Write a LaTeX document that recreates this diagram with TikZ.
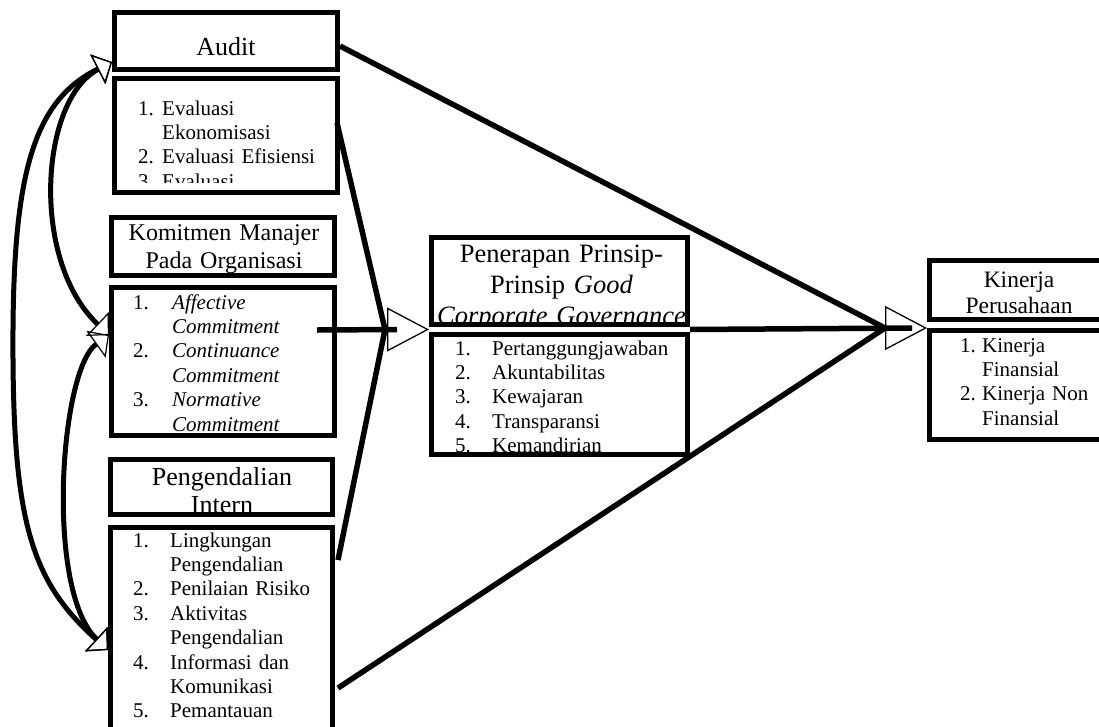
\documentclass[tikz,border=0pt]{standalone}
\usepackage{fontspec}
\setmainfont{Liberation Serif}
\usepackage{tikz}
\usetikzlibrary{arrows.meta}
\newcommand{\lnum}[2]{\makebox[#1][l]{#2}}

\begin{document}
\begin{tikzpicture}[
    x=1pt, y=-1pt,
    frameBox/.style={draw, rectangle, line width=5pt, inner sep=0pt},
    headText/.style={align=center, inner sep=0pt, anchor=base, text width=280pt},
    listText/.style={align=left, inner sep=0pt, anchor=base west, text width=230pt, font=\fontsize{21}{24.4}\selectfont},
    mainLine/.style={line width=5.5pt},
    bigTip/.style={line width=1.3pt, -{Triangle[open, length=42pt, width=44pt]}},
    sideArr/.style={line width=5pt, {Triangle[open, length=16pt, width=33pt, line width=1.2pt]}-{Triangle[open, length=16pt, width=33pt, line width=1.2pt]}}
]
    \useasboundingbox (0,0) rectangle (1099,726);

    % Audit
    \node[frameBox, minimum width=223pt, minimum height=57pt] (audH) at (226,41) {};
    \node[headText, font=\fontsize{26}{28}\selectfont] (audT) at (226,55) {Audit};
    \node[frameBox, minimum width=223pt, minimum height=114pt] (audL) at (226,135.5) {};
    \begin{scope}
        \clip ([xshift=5pt,yshift=-5pt]audL.north west) rectangle ([xshift=-5pt,yshift=13pt]audL.south east);
        \node[listText] (audI) at (138,115) {\lnum{24pt}{1.}Evaluasi\\\hspace*{24pt}Ekonomisasi\\\lnum{24pt}{2.}Evaluasi Efisiensi\\\lnum{24pt}{3.}Evaluasi};
    \end{scope}

    % Komitmen manajer
    \node[frameBox, minimum width=223pt, minimum height=58pt] (komH) at (223,246.5) {};
    \node[headText, font=\fontsize{24}{28}\selectfont] (komT) at (224,240) {Komitmen Manajer\\Pada Organisasi};
    \node[frameBox, minimum width=223pt, minimum height=148pt] (komL) at (223,361.5) {};
    \node[listText] (komI) at (133,309) {\lnum{39pt}{1.}\textit{Affective}\\\hspace*{39pt}\textit{Commitment}\\\lnum{39pt}{2.}\textit{Continuance}\\\hspace*{39pt}\textit{Commitment}\\\lnum{39pt}{3.}\textit{Normative}\\\hspace*{39pt}\textit{Commitment}};

    % Pengendalian intern
    \node[frameBox, minimum width=222pt, minimum height=55pt] (penH) at (221.5,487) {};
    \node[headText, font=\fontsize{26}{28}\selectfont] (penT) at (222,485) {Pengendalian\\Intern};
    \node[frameBox, minimum width=222pt, minimum height=225pt] (penL) at (221.5,640) {};
    \node[listText] (penI) at (133,547) {\lnum{37pt}{1.}Lingkungan\\\hspace*{37pt}Pengendalian\\\lnum{37pt}{2.}Penilaian Risiko\\\lnum{37pt}{3.}Aktivitas\\\hspace*{37pt}Pengendalian\\\lnum{37pt}{4.}Informasi dan\\\hspace*{37pt}Komunikasi\\\lnum{37pt}{5.}Pemantauan};

    % GCG
    \node[frameBox, minimum width=256pt, minimum height=87pt] (gcgH) at (559.5,281) {};
    \begin{scope}
        \clip ([xshift=5pt,yshift=-5pt]gcgH.north west) rectangle ([xshift=-5pt,yshift=5pt]gcgH.south east);
        \node[headText, font=\fontsize{26.5}{31}\selectfont] (gcgT) at (561.5,262) {Penerapan Prinsip-\\Prinsip \textit{Good}\\\textit{Corporate Governance}};
    \end{scope}
    \node[frameBox, minimum width=256pt, minimum height=120pt] (gcgL) at (559.5,394.5) {};
    \begin{scope}
        \clip ([xshift=5pt,yshift=-5pt]gcgL.north west) rectangle ([xshift=-5pt,yshift=5pt]gcgL.south east);
        \node[listText] (gcgI) at (455,355) {\lnum{37pt}{1.}Pertanggungjawaban\\\lnum{37pt}{2.}Akuntabilitas\\\lnum{37pt}{3.}Kewajaran\\\lnum{37pt}{4.}Transparansi\\\lnum{37pt}{5.}Kemandirian};
    \end{scope}

    % Kinerja perusahaan
    \node[frameBox, minimum width=179pt, minimum height=59pt] (kinH) at (1019,290) {};
    \node[headText, font=\fontsize{23.5}{26}\selectfont] (kinT) at (1019,287) {Kinerja\\Perusahaan};
    \node[frameBox, minimum width=179pt, minimum height=109pt] (kinL) at (1019,385) {};
    \node[listText] (kinI) at (960,352) {\lnum{22pt}{1.}Kinerja\\\hspace*{22pt}Finansial\\\lnum{22pt}{2.}Kinerja Non\\\hspace*{22pt}Finansial};

    % ends of the connectors
    \coordinate (gcgIn)  at ([yshift=-2.5pt]gcgH.south west);
    \coordinate (gcgOut) at ([yshift=-2.5pt]gcgH.south east);
    \coordinate (kinIn)  at ([yshift=-6pt]kinH.south west);
    \coordinate (cvL) at ([xshift=-44pt]gcgIn);
    \coordinate (cvR) at ([xshift=-42pt]kinIn);
    \coordinate (audOut)  at ([yshift=-5pt]audH.east);
    \coordinate (audLOut) at ([xshift=-3pt,yshift=12.5pt]audL.east);
    \coordinate (komOut)  at ([xshift=-20pt,yshift=31.5pt]komL.east);
    \coordinate (penOutA) at ([xshift=3pt,yshift=80pt]penL.east);
    \coordinate (penOutB) at ([xshift=3pt,yshift=-48pt]penL.east);
    \coordinate (audIn) at ([yshift=-21pt]audH.west);
    \coordinate (komIn) at ([yshift=26.5pt]komL.west);
    \coordinate (penIn) at ([yshift=-10pt]penL.west);

    % arrow heads
    \draw[bigTip] (cvL) -- (gcgIn);
    \draw[bigTip] (cvR) -- (kinIn);

    % into GCG
    \draw[mainLine] (audLOut) -- (cvL);
    \draw[mainLine] (penOutA) -- (cvL);
    \draw[mainLine] (komOut) -- ([xshift=12pt]cvL);

    % into Kinerja
    \draw[mainLine] (audOut) -- (cvR);
    \draw[mainLine] (penOutB) -- (cvR);
    \draw[mainLine] (gcgOut) -- ([xshift=27pt]cvR);

    % correlations
    \draw[sideArr] (audIn) .. controls (40,100) and (30,260) .. (komIn);
    \draw[sideArr] (komIn) .. controls (60,370) and (45,590) .. (penIn);
    \draw[sideArr] (audIn) .. controls (35,100) and (14,170) .. (13,330) .. controls (12,520) and (30,580) .. (penIn);
\end{tikzpicture}
\end{document}
